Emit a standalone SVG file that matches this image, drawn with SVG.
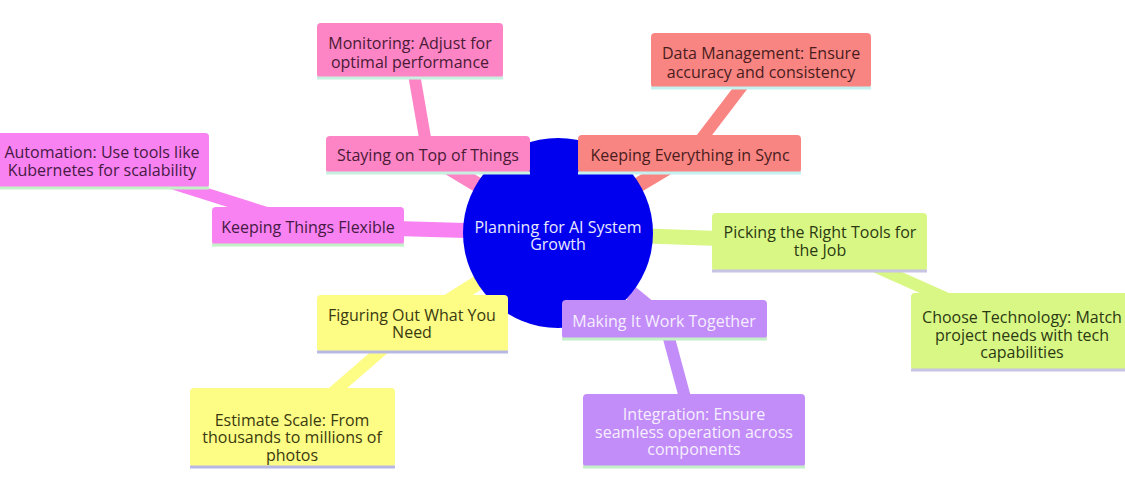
<svg xmlns="http://www.w3.org/2000/svg" width="1125" height="479" viewBox="0 0 1125 479">
<style>
text{font-family:"Open Sans","Noto Sans","Liberation Sans",sans-serif;font-size:16px;text-anchor:middle}
.e{fill:none;stroke-linecap:butt}
.d1{stroke-width:15}
.d2{stroke-width:12}
.bl{stroke-width:3}
.s0{fill:#fd85c6}.s0e{stroke:#fd85c6}.t0{fill:#4a1a35}
.s1{fill:#f98583}.s1e{stroke:#f98583}.t1{fill:#4a1c1c}
.s2{fill:#f882f1}.s2e{stroke:#f882f1}.t2{fill:#461a44}
.s3{fill:#d9f785}.s3e{stroke:#d9f785}.t3{fill:#2c3a12}
.s4{fill:#fdfc84}.s4e{stroke:#fdfc84}.t4{fill:#3a3a10}
.s5{fill:#c28cf9}.s5e{stroke:#c28cf9}.t5{fill:#f6efff}
</style>
<rect width="1125" height="479" fill="#ffffff"/>
<g id="connectors">
<line class="e d1 s0e" x1="558" y1="233" x2="428" y2="155"/>
<line class="e d2 s0e" x1="410" y1="51" x2="428" y2="155"/>
<line class="e d1 s1e" x1="558" y1="233" x2="690" y2="154"/>
<line class="e d2 s1e" x1="761" y1="61" x2="690" y2="154"/>
<line class="e d1 s2e" x1="558" y1="233" x2="308" y2="226"/>
<line class="e d2 s2e" x1="102" y1="161" x2="308" y2="226"/>
<line class="e d1 s3e" x1="558" y1="233" x2="820" y2="242"/>
<line class="e d2 s3e" x1="820" y1="242" x2="1022" y2="332"/>
<line class="e d1 s4e" x1="558" y1="233" x2="412" y2="324"/>
<line class="e d2 s4e" x1="412" y1="324" x2="292" y2="428"/>
<line class="e d1 s5e" x1="558" y1="233" x2="664" y2="320"/>
<line class="e d2 s5e" x1="664" y1="320" x2="694" y2="431"/>
</g>
<g id="root">
<circle cx="558" cy="233" r="95" fill="#0000ee"/>
<text x="558" y="233" fill="#e8e8ff">Planning for AI System</text>
<text x="558" y="250" fill="#e8e8ff">Growth</text>
</g>
<g id="staying">
<rect class="s0" x="326" y="136" width="204" height="37" rx="4"/>
<line class="bl" x1="326" y1="173" x2="530" y2="173" stroke="#c8f0e0"/>
<text class="t0" x="428" y="161">Staying on Top of Things</text>
</g>
<g id="monitoring">
<rect class="s0" x="317" y="23" width="186" height="55" rx="4"/>
<line class="bl" x1="317" y1="78" x2="503" y2="78" stroke="#c8f0e0"/>
<text class="t0" x="410" y="49">Monitoring: Adjust for</text>
<text class="t0" x="410" y="68">optimal performance</text>
</g>
<g id="sync">
<rect class="s1" x="578" y="135" width="223" height="38" rx="4"/>
<line class="bl" x1="578" y1="173" x2="801" y2="173" stroke="#c4f0f0"/>
<text class="t1" x="690" y="161">Keeping Everything in Sync</text>
</g>
<g id="data">
<rect class="s1" x="651" y="33" width="220" height="55" rx="4"/>
<line class="bl" x1="651" y1="88" x2="871" y2="88" stroke="#c4f0f0"/>
<text class="t1" x="761" y="59">Data Management: Ensure</text>
<text class="t1" x="761" y="78">accuracy and consistency</text>
</g>
<g id="flexible">
<rect class="s2" x="212" y="207" width="192" height="38" rx="4"/>
<line class="bl" x1="212" y1="245" x2="404" y2="245" stroke="#c4f0c8"/>
<text class="t2" x="308" y="233">Keeping Things Flexible</text>
</g>
<g id="automation">
<rect class="s2" x="-5" y="133" width="214" height="55" rx="4"/>
<line class="bl" x1="-5" y1="188" x2="209" y2="188" stroke="#c4f0c8"/>
<text class="t2" x="102" y="158">Automation: Use tools like</text>
<text class="t2" x="102" y="176">Kubernetes for scalability</text>
</g>
<g id="picking">
<rect class="s3" x="712" y="213" width="215" height="58" rx="4"/>
<line class="bl" x1="712" y1="271" x2="927" y2="271" stroke="#c8c4e4"/>
<text class="t3" x="820" y="238">Picking the Right Tools for</text>
<text class="t3" x="820" y="256">the Job</text>
</g>
<g id="choose">
<rect class="s3" x="911" y="293" width="222" height="77" rx="4"/>
<line class="bl" x1="911" y1="370" x2="1133" y2="370" stroke="#c8c4e4"/>
<text class="t3" x="1022" y="323">Choose Technology: Match</text>
<text class="t3" x="1022" y="341">project needs with tech</text>
<text class="t3" x="1022" y="358">capabilities</text>
</g>
<g id="figuring">
<rect class="s4" x="317" y="295" width="191" height="57" rx="4"/>
<line class="bl" x1="317" y1="352" x2="508" y2="352" stroke="#b8b8e4"/>
<text class="t4" x="412" y="321">Figuring Out What You</text>
<text class="t4" x="412" y="338">Need</text>
</g>
<g id="estimate">
<rect class="s4" x="190" y="388" width="205" height="79" rx="4"/>
<line class="bl" x1="190" y1="467" x2="395" y2="467" stroke="#b8b8e4"/>
<text class="t4" x="292" y="426">Estimate Scale: From</text>
<text class="t4" x="292" y="443">thousands to millions of</text>
<text class="t4" x="292" y="461">photos</text>
</g>
<g id="making">
<rect class="s5" x="562" y="300" width="205" height="39" rx="4"/>
<line class="bl" x1="562" y1="339" x2="767" y2="339" stroke="#c4f0c8"/>
<text class="t5" x="664" y="327">Making It Work Together</text>
</g>
<g id="integration">
<rect class="s5" x="583" y="394" width="222" height="73" rx="4"/>
<line class="bl" x1="583" y1="467" x2="805" y2="467" stroke="#c4f0c8"/>
<text class="t5" x="694" y="420">Integration: Ensure</text>
<text class="t5" x="694" y="438">seamless operation across</text>
<text class="t5" x="694" y="455">components</text>
</g>
</svg>
